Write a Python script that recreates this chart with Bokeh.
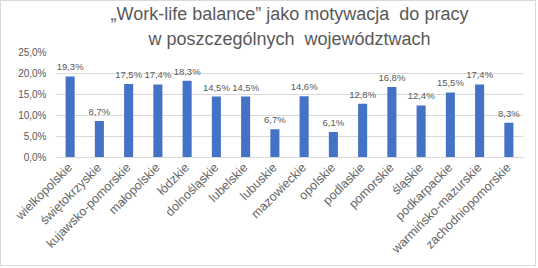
from bokeh.plotting import figure
from bokeh.models import ColumnDataSource, CustomJSTickFormatter, Title, FixedTicker
from bokeh.embed import file_html
from bokeh.resources import INLINE
import math

categories = ["wielkopolskie", "świętokrzyskie", "kujawsko-pomorskie", "małopolskie",
              "łódzkie", "dolnośląskie", "lubelskie", "lubuskie", "mazowieckie",
              "opolskie", "podlaskie", "pomorskie", "śląskie", "podkarpackie",
              "warmińsko-mazurskie", "zachodniopomorskie"]
values = [19.3, 8.7, 17.5, 17.4, 18.3, 14.5, 14.5, 6.7, 14.6, 6.1, 12.8, 16.8, 12.4, 15.5, 17.4, 8.3]
y_ticks = [0.0, 0.05, 0.10, 0.15, 0.20, 0.25]
title_line1 = "„Work-life balance” jako motywacja \u00a0do pracy"
title_line2 = "w poszczególnych \u00a0województwach"

fracs = [v / 100 for v in values]
labels = [("%.1f" % v).replace(".", ",") + "%" for v in values]
src = ColumnDataSource(dict(cat=categories, val=fracs, lab=labels))

TXT = "#595959"
FONT = "Liberation Sans"

p = figure(x_range=categories, y_range=(0, 0.25), width=536, height=266,
           output_backend="svg", toolbar_location=None,
           min_border_left=54, min_border_right=14, min_border_top=50, min_border_bottom=110)
p.styles = {"border": "1px solid #d9d9d9"}
p.title.visible = False
p.title.text = ""
t2 = Title(text=title_line2, align="center", text_font=FONT, text_font_size="18px",
           text_font_style="normal", text_color=TXT, standoff=7, offset=0)
t1 = Title(text=title_line1, align="center", text_font=FONT, text_font_size="18px",
           text_font_style="normal", text_color=TXT, standoff=0, offset=0)
p.add_layout(t2, "above")
p.add_layout(t1, "above")

p.vbar(x="cat", top="val", width=0.31, source=src, color="#4472C4", line_color=None)
p.text(x="cat", y="val", text="lab", source=src, text_align="center", text_baseline="bottom",
       y_offset=-4, text_font_size="9.5px", text_color=TXT,
       text_font={"value": FONT})

p.outline_line_color = None
p.background_fill_color = "white"
p.border_fill_color = "white"

p.xgrid.grid_line_color = None
p.ygrid.grid_line_color = "#d9d9d9"
p.yaxis.ticker = FixedTicker(ticks=y_ticks)
p.yaxis.formatter = CustomJSTickFormatter(code="return (tick*100).toFixed(1).replace('.', ',') + '%';")
p.yaxis.axis_line_color = None
p.yaxis.major_tick_line_color = None
p.yaxis.minor_tick_line_color = None
p.yaxis.major_tick_out = 0
p.yaxis.minor_tick_out = 0
p.yaxis.major_label_text_font = FONT
p.yaxis.major_label_text_font_size = "10px"
p.yaxis.major_label_text_color = TXT
p.yaxis.major_label_standoff = 9

p.xaxis.axis_line_color = "#d9d9d9"
p.xaxis.major_tick_line_color = None
p.xaxis.minor_tick_line_color = None
p.xaxis.major_tick_out = 0
p.xaxis.minor_tick_out = 0
p.xaxis.major_label_orientation = math.pi / 4
p.xaxis.major_label_text_font = FONT
p.xaxis.major_label_text_font_size = "12.5px"
p.xaxis.major_label_text_color = "#666666"
p.xaxis.major_label_standoff = 8
p.x_range.range_padding = 0

open("out.html", "w").write(file_html(p, INLINE))
